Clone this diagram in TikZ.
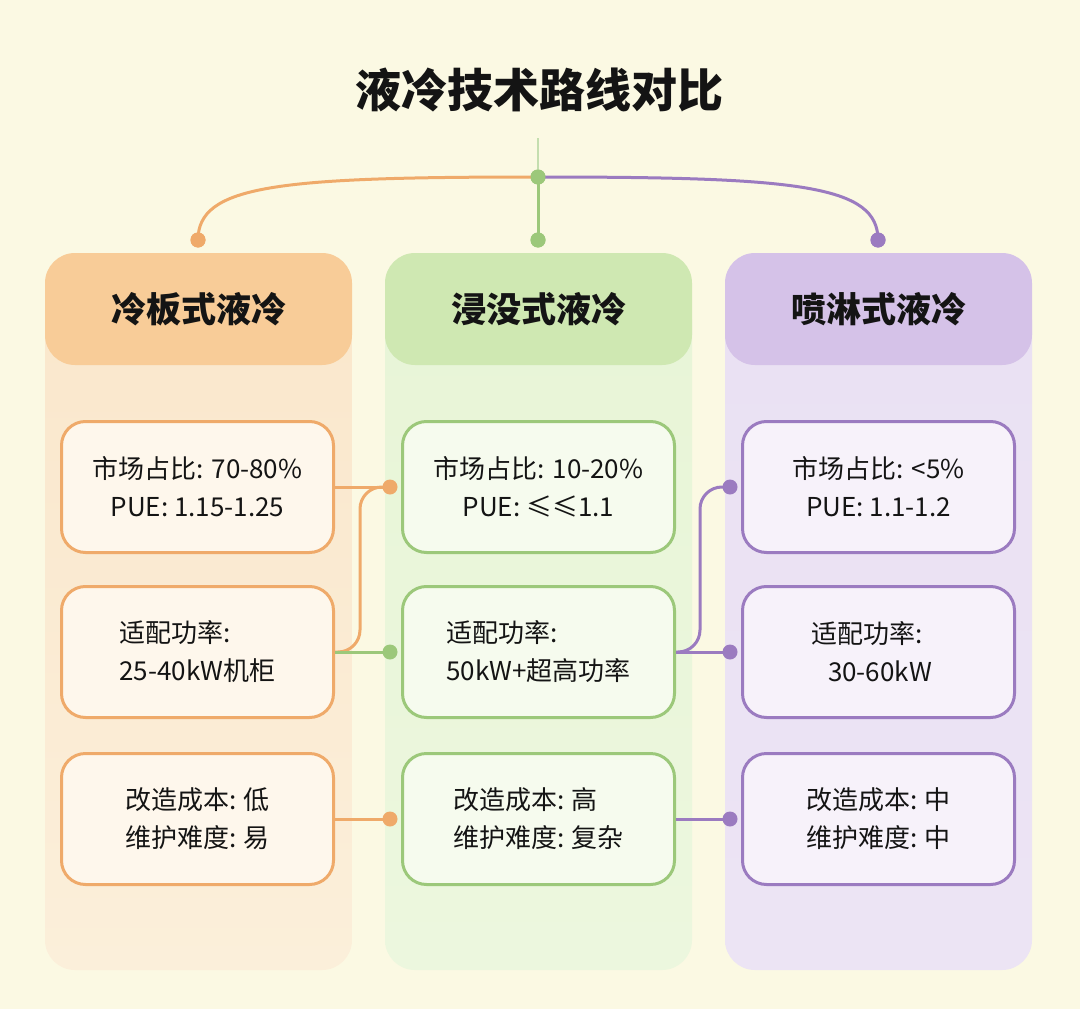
\documentclass[tikz,border=0pt]{standalone}
\usepackage{fontspec}
\setmainfont{Noto Sans CJK SC}
\definecolor{bgc}{RGB}{251,249,227}
\definecolor{txt}{RGB}{20,20,20}
\definecolor{ostroke}{RGB}{239,170,106}
\definecolor{gstroke}{RGB}{156,200,122}
\definecolor{pstroke}{RGB}{155,123,192}
\definecolor{ohead}{RGB}{248,204,152}
\definecolor{ghead}{RGB}{207,232,178}
\definecolor{phead}{RGB}{213,194,232}
\definecolor{obodyt}{RGB}{250,231,204}
\definecolor{obodyb}{RGB}{251,239,218}
\definecolor{gbodyt}{RGB}{232,245,215}
\definecolor{gbodyb}{RGB}{236,247,222}
\definecolor{pbodyt}{RGB}{234,225,243}
\definecolor{pbodyb}{RGB}{236,228,244}
\definecolor{ocard}{RGB}{254,247,236}
\definecolor{gcard}{RGB}{246,251,238}
\definecolor{pcard}{RGB}{247,242,250}
\begin{document}
\begin{tikzpicture}[x=1pt,y=-1pt,
  body/.style={draw=none,rounded corners=30pt,minimum width=307pt,minimum height=680pt,inner sep=0pt},
  head/.style={draw=none,rounded corners=30pt,minimum width=307pt,minimum height=112pt,inner sep=0pt,
    text=txt,font=\fontsize{35}{40}\selectfont\bfseries},
  card/.style={line width=3pt,rounded corners=24pt,minimum width=272pt,minimum height=131pt,inner sep=0pt,
    text=txt,font=\fontsize{26}{38}\selectfont},
  ocardst/.style={card,draw=ostroke,fill=ocard},
  gcardst/.style={card,draw=gstroke,fill=gcard},
  pcardst/.style={card,draw=pstroke,fill=pcard},
  dotst/.style={circle,inner sep=0pt,minimum size=15pt},
  oline/.style={draw=ostroke,line width=3pt},
  gline/.style={draw=gstroke,line width=3pt},
  pline/.style={draw=pstroke,line width=3pt}]
\useasboundingbox (0,0) rectangle (1080,1009);
\fill[bgc] (0,0) rectangle (1080,1009);

% title
\node[text=txt,font=\fontsize{46}{50}\selectfont\bfseries] (title) at (539,90) {液冷技术路线对比};

% column bodies
\node[body,top color=obodyt,bottom color=obodyb] (bO) at (198.5,630) {};
\node[body,top color=gbodyt,bottom color=gbodyb] (bG) at (538.5,630) {};
\node[body,top color=pbodyt,bottom color=pbodyb] (bP) at (878.5,630) {};

% headers
\node[head,fill=ohead] (hO) at (198.5,309) {冷板式液冷};
\node[head,fill=ghead] (hG) at (538.5,309) {浸没式液冷};
\node[head,fill=phead] (hP) at (878.5,309) {喷淋式液冷};

% top tree
\coordinate (vt) at (538,138);
\node[dotst,fill=gstroke] (j) at (538,177) {};
\node[dotst,fill=ostroke] (dO) at (198,240) {};
\node[dotst,fill=gstroke] (dG) at (538,240) {};
\node[dotst,fill=pstroke] (dP) at (878,240) {};
\draw[draw=gstroke!60,line width=2.5pt] (vt) -- (j.center);
\draw[oline] (j.center) .. controls +(-260,0) and +(0,-55) .. (dO.center);
\draw[pline] (j.center) .. controls +(260,0) and +(0,-55) .. (dP.center);
\draw[gline] (j.center) -- (dG.center);
\node[dotst,fill=gstroke] at (j) {};
\node[dotst,fill=ostroke] at (dO) {};
\node[dotst,fill=gstroke] at (dG) {};
\node[dotst,fill=pstroke] at (dP) {};

% cards
\node[ocardst,align=center] (c11) at (197.5,487) {市场占比: 70-80\%\\PUE: 1.15-1.25};
\node[ocardst,align=left] (c21) at (197.5,652) {适配功率:\\25-40kW机柜};
\node[ocardst,align=left] (c31) at (197.5,819) {改造成本: 低\\维护难度: 易};
\node[gcardst,align=center] (c12) at (538.5,487) {市场占比: 10-20\%\\PUE: ≤≤1.1};
\node[gcardst,align=left] (c22) at (538.5,652) {适配功率:\\50kW+超高功率};
\node[gcardst,align=left] (c32) at (538.5,819) {改造成本: 高\\维护难度: 复杂};
\node[pcardst,align=center] (c13) at (878.5,487) {市场占比: <5\%\\PUE: 1.1-1.2};
\node[pcardst,align=left] (c23) at (878.5,652) {适配功率:\\\hspace*{17pt}30-60kW\hspace*{14pt}};
\node[pcardst,align=left] (c33) at (878.5,819) {改造成本: 中\\维护难度: 中};

% connector dots
\node[dotst,fill=ostroke] (d1o) at (390,487) {};
\node[dotst,fill=gstroke] (d2g) at (390,652) {};
\node[dotst,fill=ostroke] (d3o) at (390,819) {};
\node[dotst,fill=pstroke] (d1p) at (730,487) {};
\node[dotst,fill=pstroke] (d2p) at (730,652) {};
\node[dotst,fill=pstroke] (d3p) at (730,819) {};

% connectors
\draw[oline] (c11.east) -- (d1o.center);
\draw[oline,rounded corners=22pt] (c21.east) -| ([xshift=-30pt]d1o.center) -- (d1o.center);
\draw[gline] (c21.east) -- (d2g.center);
\draw[oline] (c31.east) -- (d3o.center);
\draw[pline,rounded corners=22pt] (c22.east) -| ([xshift=-30pt]d1p.center) -- (d1p.center);
\draw[pline] (c22.east) -- (d2p.center);
\draw[pline] (c32.east) -- (d3p.center);
\end{tikzpicture}
\end{document}
